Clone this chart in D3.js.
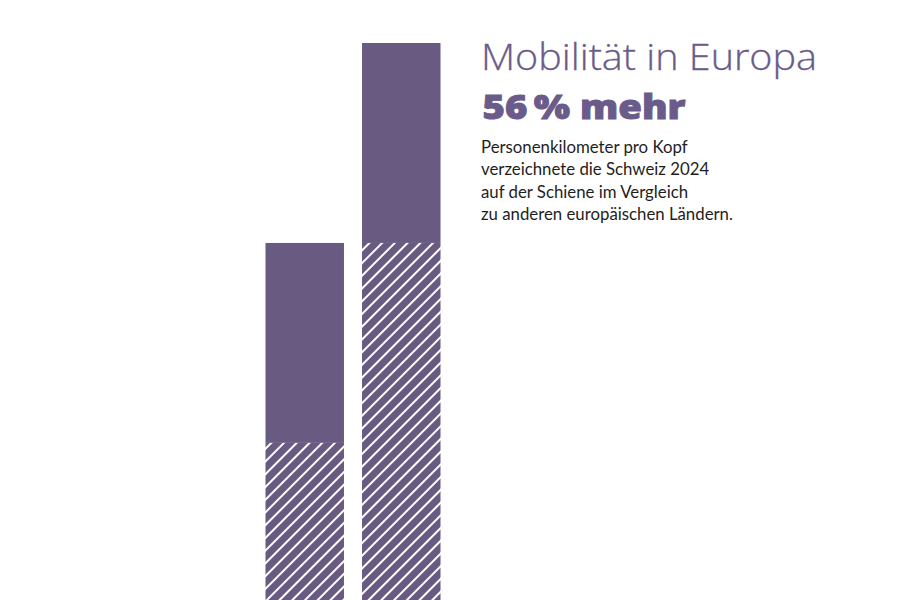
<!DOCTYPE html>
<html>
<head>
<meta charset="utf-8">
<script src="https://cdn.jsdelivr.net/npm/d3@7"></script>
<style>
  body { margin: 0; background: #fff; }
  svg { display: block; }
</style>
</head>
<body>
<div id="chart"></div>
<script>
// Index: Europa = 100, Schweiz = 156
var categories = ['Europa', 'Schweiz'];
var hatchedValues = [44, 100];
var solidValues = [56, 56];
var titleLines = ['Mobilität in Europa', '56\u2009% mehr'];
var bodyLines = [
  'Personenkilometer pro Kopf',
  'verzeichnete die Schweiz 2024',
  'auf der Schiene im Vergleich',
  'zu anderen europäischen Ländern.'
];

var width = 899, height = 600;
var purple = '#685a81';

var svg = d3.select('#chart').append('svg')
    .attr('width', width)
    .attr('height', height);

// hatch pattern
var pattern = svg.append('defs').append('pattern')
    .attr('id', 'hatch')
    .attr('patternUnits', 'userSpaceOnUse')
    .attr('width', 9)
    .attr('height', 9)
    .attr('patternTransform', 'rotate(45)');
pattern.append('rect')
    .attr('width', 9)
    .attr('height', 9)
    .attr('fill', purple);
pattern.append('line')
    .attr('x1', 1).attr('y1', 0)
    .attr('x2', 1).attr('y2', 9)
    .attr('stroke', '#fff')
    .attr('stroke-width', 2);

var data = categories.map((c, i) => ({
  cat: c,
  hatched: hatchedValues[i],
  solid: solidValues[i]
}));

// scales
var x = d3.scaleBand()
    .domain(categories)
    .range([265.5, 440.5])
    .paddingInner(0.187)
    .paddingOuter(0);
var y = d3.scaleLinear()
    .domain([0, d3.max(data, d => d.hatched + d.solid)])
    .range([height, 43]);

var bars = svg.append('g').attr('id', 'bars')
  .selectAll('g')
  .data(data)
  .join('g');

bars.append('rect')
    .attr('x', d => x(d.cat))
    .attr('width', x.bandwidth())
    .attr('y', d => y(d.hatched + d.solid))
    .attr('height', d => y(d.hatched) - y(d.hatched + d.solid))
    .attr('fill', purple);

bars.append('rect')
    .attr('x', d => x(d.cat))
    .attr('width', x.bandwidth())
    .attr('y', d => y(d.hatched))
    .attr('height', d => y(0) - y(d.hatched))
    .attr('fill', 'url(#hatch)');

// texts
var tx = 481;
svg.append('text')
    .attr('x', tx)
    .attr('y', 69.5)
    .attr('font-family', 'Open Sans')
    .attr('font-weight', 300)
    .attr('font-size', 36)
    .attr('fill', '#6a5b8a')
    .attr('stroke', '#6a5b8a')
    .attr('stroke-width', 0.3)
    .attr('textLength', 336)
    .attr('lengthAdjust', 'spacingAndGlyphs')
    .text(titleLines[0]);

svg.append('text')
    .attr('x', tx + 1.5)
    .attr('y', 119)
    .attr('font-family', 'Open Sans')
    .attr('font-weight', 800)
    .attr('font-size', 33.5)
    .attr('fill', '#6a5b8a')
    .attr('stroke', '#6a5b8a')
    .attr('stroke-width', 0.9)
    .attr('textLength', 203)
    .attr('lengthAdjust', 'spacingAndGlyphs')
    .text(titleLines[1]);

svg.append('g')
  .selectAll('text')
  .data(bodyLines)
  .join('text')
    .attr('x', tx)
    .attr('y', (d, i) => 153 + i * 22.3)
    .attr('font-family', 'Lato')
    .attr('font-size', 16.8)
    .attr('fill', '#1e1e1e')
    .text(d => d);
</script>
</body>
</html>
